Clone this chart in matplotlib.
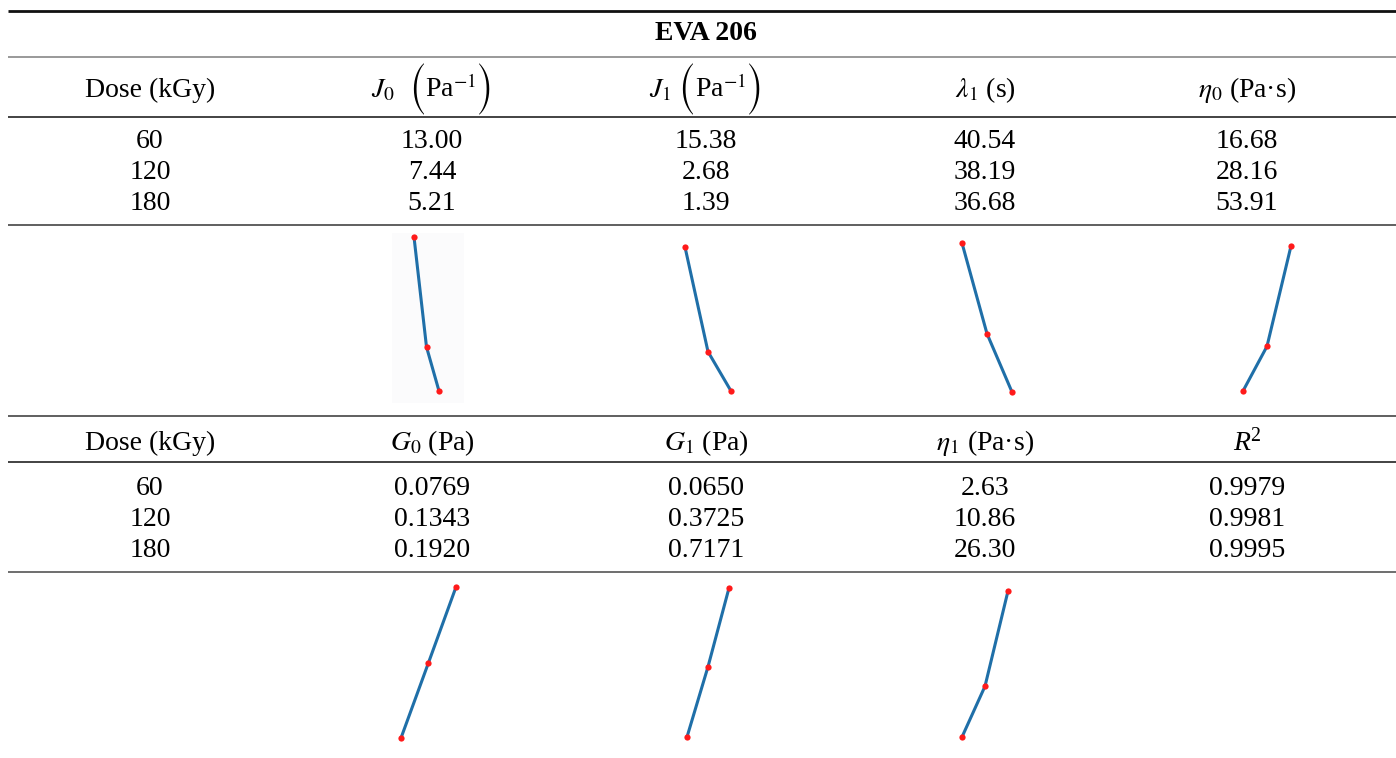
import matplotlib
matplotlib.use("Agg")
import matplotlib.pyplot as plt
from matplotlib.patches import Rectangle

plt.rcParams["font.family"] = ["Liberation Serif", "DejaVu Serif"]
plt.rcParams["mathtext.fontset"] = "stix"

# ---- table content ----
title = "EVA 206"
doses = [60, 120, 180]
dose_labels = ["60", "120", "180"]

J0 = [13.00, 7.44, 5.21]
J1 = [15.38, 2.68, 1.39]
lambda1 = [40.54, 38.19, 36.68]
eta0 = [16.68, 28.16, 53.91]
G0 = [0.0769, 0.1343, 0.1920]
G1 = [0.0650, 0.3725, 0.7171]
eta1 = [2.63, 10.86, 26.30]
R2 = [0.9979, 0.9981, 0.9995]

fmt2 = "{:.2f}"
fmt4 = "{:.4f}"

W, H = 1396, 758
fig = plt.figure(figsize=(W / 100, H / 100), dpi=100)
ax = fig.add_axes([0, 0, 1, 1])
ax.set_xlim(0, W)
ax.set_ylim(H, 0)
ax.axis("off")
renderer = fig.canvas.get_renderer()

col_x = [150, 432, 706, 985, 1247]
fs = 20
big = {"family": ["STIXSizeTwoSym", "DejaVu Serif"]}
ital = {"style": "italic"}
plain = {}

# header cells as runs of (text, fontsize, text kwargs, baseline shift px)
headers_top = [
    [("Dose (kGy)", fs, plain, 0)],
    [(r"$J_0$", fs, plain, 0), ("  ", fs, plain, 0), ("(", fs, big, 10),
     (r"Pa$^{-1}$", fs, plain, 0), (")", fs, big, 10)],
    [(r"$J_1$", fs, plain, 0), (" ", fs, plain, 0), ("(", fs, big, 10),
     (r"Pa$^{-1}$", fs, plain, 0), (")", fs, big, 10)],
    [(r"$\lambda_1$ (s)", fs, plain, 0)],
    [(r"$\eta_0$ (Pa·s)", fs, plain, 0)],
]
headers_bottom = [
    [("Dose (kGy)", fs, plain, 0)],
    [(r"$G_0$ (Pa)", fs, plain, 0)],
    [(r"$G_1$ (Pa)", fs, plain, 0)],
    [(r"$\eta_1$ (Pa·s)", fs, plain, 0)],
    [("R", fs, ital, 0), ("2", fs * 0.72, plain, -9)],
]


def run_text(xc, yb, runs):
    """Draw a sequence of text runs centred horizontally at xc."""
    arts = []
    for s, size, kw, dy in runs:
        t = ax.text(0, yb + dy, s, ha="left", va="baseline", fontsize=size,
                    **kw)
        arts.append(t)
    widths = [a.get_window_extent(renderer).width for a in arts]
    x = xc - sum(widths) / 2
    for a, w in zip(arts, widths):
        a.set_x(x)
        x += w


def hline(y, lw, color):
    ax.plot([8, W], [y, y], color=color, lw=lw, solid_capstyle="butt")


# rules
hline(11, 2.0, "#111111")
hline(57, 1.2, "#888888")
hline(116.5, 1.2, "#222222")
hline(225, 1.2, "#444444")
hline(416, 1.2, "#444444")
hline(462, 1.2, "#222222")
hline(571.5, 1.2, "#555555")

ax.text(706, 40, title, ha="center", va="baseline", fontsize=fs,
        fontweight="bold")

for x, h in zip(col_x, headers_top):
    run_text(x, 97, h)
for x, h in zip(col_x, headers_bottom):
    run_text(x, 450, h)

top_cols = [dose_labels,
            [fmt2.format(v) for v in J0],
            [fmt2.format(v) for v in J1],
            [fmt2.format(v) for v in lambda1],
            [fmt2.format(v) for v in eta0]]
bottom_cols = [dose_labels,
               [fmt4.format(v) for v in G0],
               [fmt4.format(v) for v in G1],
               [fmt2.format(v) for v in eta1],
               [fmt4.format(v) for v in R2]]

for x, col in zip(col_x, top_cols):
    for yb, s in zip([148, 179, 210], col):
        ax.text(x, yb, s, ha="center", va="baseline", fontsize=fs)
for x, col in zip(col_x, bottom_cols):
    for yb, s in zip([495, 526, 557], col):
        ax.text(x, yb, s, ha="center", va="baseline", fontsize=fs)

# faint backdrop behind the J0 trend
ax.add_patch(Rectangle((392, 233), 72, 170, facecolor="#fbfbfc",
                       edgecolor="none", zorder=0))

# ---- sparklines: (values, left, right, top, bottom, yscale) ----
sparks = [
    (J0, 414, 439, 237, 391, "linear"),
    (J1, 685, 731, 247, 391, "log"),
    (lambda1, 962, 1012, 243, 392, "linear"),
    (eta0, 1243, 1291, 246, 391, "linear"),
    (G0, 401, 456, 587, 738, "linear"),
    (G1, 687, 729, 588, 737, "linear"),
    (eta1, 962, 1008, 591, 737, "linear"),
]

for vals, x0, x1, y0, y1, scale in sparks:
    sax = fig.add_axes([x0 / W, 1 - y1 / H, (x1 - x0) / W, (y1 - y0) / H])
    sax.set_yscale(scale)
    sax.set_xlim(min(doses), max(doses))
    sax.set_ylim(min(vals), max(vals))
    sax.plot(doses, vals, color="#1f6fa8", lw=2.2, clip_on=False, zorder=2)
    sax.plot(doses, vals, "o", color="#ff1a1a", ms=4.5, mec="none",
             clip_on=False, zorder=3)
    sax.axis("off")
    sax.patch.set_alpha(0)

fig.savefig("out.png", dpi=100)
